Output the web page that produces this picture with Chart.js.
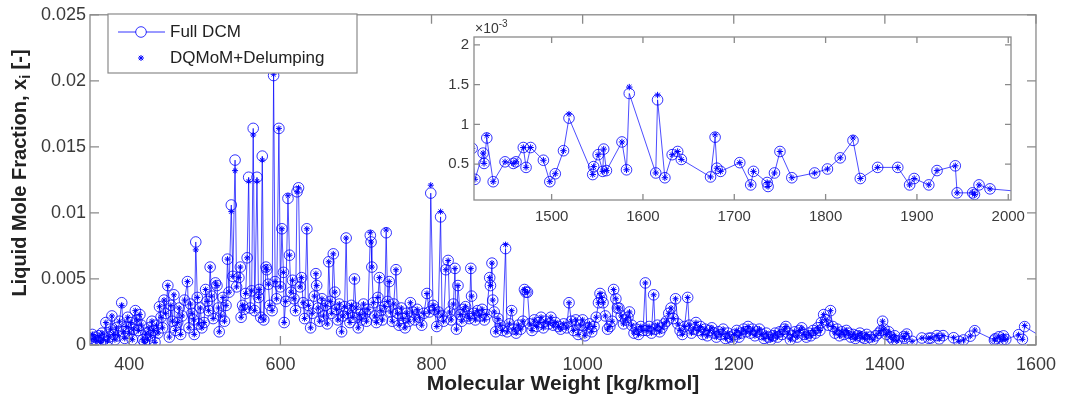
<!DOCTYPE html>
<html>
<head>
<meta charset="utf-8">
<title>Liquid mole fraction vs molecular weight</title>
<script src="https://cdn.jsdelivr.net/npm/chart.js@4.4.1/dist/chart.umd.min.js"></script>
<style>
  html, body { margin: 0; padding: 0; background: #fff; }
  #wrap { position: relative; width: 1065px; height: 400px; }
  #wrap canvas { position: absolute; left: 0; top: 0; }
</style>
</head>
<body>
<div id="wrap">
  <canvas id="mainChart" width="1065" height="400"></canvas>
  <canvas id="insetChart" width="1065" height="400"></canvas>
</div>
<script>
// molecular weight of each pseudo component [kg/kmol]
const mw = [
  348, 351, 353, 355, 357, 360, 362, 364, 366, 369,
  371, 373, 375, 377, 379, 381, 383, 385, 387, 390,
  392, 394, 396, 398, 400, 402, 404, 406, 408, 410,
  412, 414, 416, 418, 420, 422, 424, 426, 428, 430,
  432, 434, 436, 438, 440, 442, 444, 446, 448, 451,
  453, 455, 457, 459, 461, 464, 466, 468, 470, 473,
  477, 479, 481, 483, 485, 486, 488, 490, 492, 494,
  496, 499, 501, 503, 505, 507, 509, 511, 514, 516,
  518, 519, 521, 524, 526, 528, 530, 532, 535, 537,
  540, 542, 545, 547, 548, 550, 552, 554, 556, 558,
  560, 562, 564, 566, 569, 571, 572, 574, 576, 578,
  581, 582, 584, 586, 589, 591, 593, 595, 598, 600,
  602, 604, 605, 607, 610, 612, 614, 616, 618, 620,
  622, 624, 626, 628, 630, 632, 635, 637, 640, 642,
  645, 647, 648, 650, 652, 655, 657, 660, 662, 664,
  666, 668, 670, 672, 674, 676, 678, 681, 683, 685,
  687, 689, 692, 694, 696, 698, 700, 703, 705, 707,
  710, 712, 714, 716, 719, 720, 721, 723, 725, 727,
  729, 731, 733, 735, 738, 740, 742, 744, 746, 748,
  750, 753, 755, 757, 760, 762, 765, 767, 770, 772,
  775, 778, 781, 784, 787, 790, 794, 797, 799, 802,
  804, 807, 809, 812, 814, 816, 819, 822, 824, 826,
  829, 831, 833, 835, 838, 840, 842, 845, 848, 850,
  852, 853, 856, 858, 861, 864, 867, 870, 873, 877,
  878, 880, 881, 883, 885, 888, 891, 894, 898, 900,
  903, 906, 909, 912, 915, 918, 921, 923, 925, 927,
  930, 933, 936, 939, 942, 945, 948, 951, 955, 958,
  961, 964, 968, 971, 975, 979, 982, 985, 988, 991,
  994, 997, 1000, 1003, 1006, 1009, 1012, 1015, 1018, 1021,
  1023, 1025, 1027, 1030, 1033, 1036, 1039, 1041, 1044, 1046,
  1048, 1051, 1054, 1057, 1060, 1062, 1065, 1068, 1071, 1074,
  1077, 1080, 1083, 1085, 1088, 1091, 1094, 1096, 1099, 1102,
  1105, 1108, 1111, 1114, 1117, 1120, 1123, 1126, 1129, 1132,
  1135, 1139, 1141, 1144, 1147, 1150, 1153, 1156, 1159, 1162,
  1165, 1168, 1171, 1174, 1177, 1180, 1183, 1186, 1189, 1192,
  1195, 1198, 1201, 1204, 1207, 1210, 1213, 1216, 1219, 1222,
  1225, 1228, 1231, 1234, 1237, 1240, 1243, 1246, 1249, 1252,
  1255, 1258, 1261, 1264, 1267, 1269, 1272, 1275, 1278, 1281,
  1284, 1287, 1290, 1293, 1296, 1299, 1302, 1305, 1308, 1311,
  1314, 1316, 1319, 1322, 1325, 1328, 1331, 1334, 1337, 1340,
  1343, 1346, 1349, 1352, 1355, 1358, 1361, 1364, 1367, 1370,
  1373, 1376, 1380, 1384, 1388, 1392, 1395, 1397, 1399, 1402,
  1405, 1408, 1411, 1413, 1416, 1425, 1426, 1429, 1436, 1449,
  1458, 1461, 1469, 1472, 1477, 1491, 1498, 1504, 1513, 1519,
  1545, 1546, 1551, 1556, 1557, 1560, 1577, 1582, 1585, 1614,
  1616, 1624, 1632, 1638, 1642, 1674, 1679, 1681, 1685, 1706,
  1718, 1721, 1736, 1737, 1744, 1750, 1763, 1788, 1802, 1816,
  1830, 1838, 1857, 1879, 1892, 1897, 1913, 1922, 1942, 1944,
  1961, 1963, 1968, 1980, 2010
];

// Full DCM liquid mole fraction
const fullDcm = [
  .0005, .0008, .0004, .0006, .0003, .0007, .0002, .0009, .0004, .0017,
  .0003, .0006, .0012, .0022, .0008, .0004, .0013, .0007, .0018, .0032,
  .0010, .0005, .0014, .0021, .0009, .0017, .0004, .0012, .0026, .0019,
  .0011, .0023, .0015, .0004, .0002, .0009, .0004, .0013, .0007, .0018,
  .0011, .0002, .0015, .0009, .0029, .0021, .0013, .0034, .0024, .0045,
  .0006, .0030, .0018, .0038, .0011, .0017, .0028, .0008, .0022, .0034,
  .0048, .0013, .0031, .0024, .0019, .0008, .0078, .0036, .0016, .0028,
  .0013, .0017, .0042, .0033, .0026, .0059, .0037, .0020, .0047, .0045,
  .0028, .0010, .0022, .0036, .0018, .0030, .0065, .0040, .0106, .0052,
  .0140, .0044, .0051, .0059, .0021, .0030, .0027, .0039, .0066, .0127,
  .0028, .0041, .0164, .0026, .0127, .0036, .0042, .0021, .0143, .0019,
  .0059, .0057, .0046, .0030, .0026, .0204, .0048, .0035, .0164, .0044,
  .0088, .0055, .0017, .0033, .0111, .0068, .0040, .0049, .0035, .0026,
  .0116, .0119, .0044, .0051, .0032, .0020, .0088, .0030, .0013, .0024,
  .0037, .0054, .0045, .0028, .0018, .0035, .0022, .0030, .0016, .0063,
  .0033, .0024, .0069, .0040, .0027, .0019, .0031, .0010, .0022, .0029,
  .0081, .0024, .0017, .0030, .0021, .0050, .0028, .0013, .0023, .0019,
  .0031, .0024, .0018, .0027, .0083, .0078, .0059, .0032, .0022, .0017,
  .0036, .0051, .0026, .0019, .0029, .0085, .0033, .0048, .0025, .0018,
  .0031, .0057, .0024, .0015, .0028, .0020, .0013, .0024, .0018, .0032,
  .0025, .0019, .0027, .0021, .0015, .0024, .0039, .0025, .0115, .0030,
  .0027, .0014, .0025, .0097, .0022, .0018, .0057, .0064, .0025, .0019,
  .0031, .0058, .0012, .0045, .0023, .0018, .0027, .0029, .0022, .0020,
  .0058, .0037, .0024, .0019, .0026, .0022, .0027, .0019, .0023, .0051,
  .0045, .0062, .0034, .0025, .0010, .0020, .0015, .0011, .0073, .0010,
  .0016, .0026, .0012, .0009, .0015, .0012, .0018, .0042, .0040, .0040,
  .0016, .0011, .0019, .0014, .0017, .0021, .0013, .0018, .0016, .0021,
  .0015, .0017, .0014, .0012, .0016, .0013, .0032, .0018, .0011, .0019,
  .0008, .0015, .0019, .0007, .0013, .0016, .0010, .0014, .0021, .0032,
  .0039, .0036, .0032, .0022, .0012, .0014, .0018, .0042, .0035, .0028,
  .0028, .0022, .0016, .0019, .0021, .0025, .0015, .0009, .0012, .0008,
  .0014, .0011, .0047, .0011, .0014, .0009, .0038, .0012, .0015, .0010,
  .0013, .0016, .0018, .0024, .0028, .0020, .0035, .0016, .0011, .0008,
  .0014, .0036, .0015, .0009, .0012, .0017, .0011, .0014, .0008, .0012,
  .0007, .0011, .0013, .0009, .0006, .0010, .0008, .0012, .0005, .0009,
  .0006, .0004, .0008, .0011, .0006, .0009, .0012, .0010, .0014, .0009,
  .0012, .0007, .0010, .0012, .0008, .0005, .0009, .0006, .0004, .0007,
  .0009, .0006, .0010, .0008, .0012, .0014, .0009, .0004, .0007, .0010,
  .0006, .0011, .0013, .0008, .0006, .0009, .0007, .0011, .0009, .0013,
  .0011, .0017, .0023, .0019, .0015, .0026, .0014, .0009, .0012, .0007,
  .0010, .0008, .0011, .0009, .0006, .0008, .0005, .0007, .0009, .0006,
  .0005, .0008, .0006, .0004, .0007, .0009, .0011, .0018, .0012, .0008,
  .0010, .0006, .0004, .0007, .00031, .00064, .00051, .00083, .00028, .00053,
  .00051, .00053, .00071, .00046, .00071, .00055, .00028, .00038, .00067, .00108,
  .00037, .00047, .00062, .00041, .00069, .00042, .00078, .00043, .00139, .00039,
  .00131, .00033, .00062, .00066, .00056, .00034, .00084, .00045, .00041, .00052,
  .00024, .00041, .00027, .00022, .00039, .00066, .00033, .00039, .00044, .00058,
  .00080, .00032, .00046, .00046, .00024, .00032, .00024, .00042, .00048, .00014,
  .00014, .00012, .00024, .00019, .00016
];

// DQMoM+Delumping markers sit on the Full DCM circles except at these peaks
const dqPeakMw  = [390, 488, 535, 540, 558, 564, 569, 576, 591, 610, 719, 740, 799, 812, 898, 1429, 1519, 1585, 1616, 1679, 1830];
const dqPeakVal = [.0030, .0072, .0101, .0132, .0124, .0159, .0124, .0140, .0205, .0113, .0085, .0087, .0121, .0101, .0076,
                   .00086, .00113, .00147, .00137, .00087, .00083];

const xTicks = [400, 600, 800, 1000, 1200, 1400, 1600];
const yTicks = [0, 0.005, 0.01, 0.015, 0.02, 0.025];
const yTickLabels = ['0', '0.005', '0.01', '0.015', '0.02', '0.025'];
const insetXTicks = [1500, 1600, 1700, 1800, 1900, 2000];
const insetYTicks = [0.0005, 0.001, 0.0015, 0.002];
const insetYTickLabels = ['0.5', '1', '1.5', '2'];

const BLUE = '#0000ff';
const AXIS = '#8a8a8a';
const TXT = '#3a3a3a';
const FONT = "'Liberation Sans', Arial, sans-serif";

const dqmom = fullDcm.map((v, i) => {
    const k = dqPeakMw.indexOf(mw[i]);
    return k >= 0 ? dqPeakVal[k] : v;
});
const fullPts = mw.map((m, i) => ({ x: m, y: fullDcm[i] }));
const dqPts = mw.map((m, i) => ({ x: m, y: dqmom[i] }));

function makeDatasets(circleR, starR) {
    return [
        {
            label: 'Full DCM',
            data: fullPts,
            showLine: true,
            borderColor: BLUE,
            borderWidth: 0.7,
            pointStyle: 'circle',
            pointRadius: circleR,
            pointBorderWidth: 0.8,
            pointBorderColor: BLUE,
            pointBackgroundColor: 'rgba(0,0,0,0)',
            order: 2
        },
        {
            label: 'DQMoM+Delumping',
            data: dqPts,
            showLine: false,
            pointStyle: 'star',
            pointRadius: starR,
            pointBorderWidth: 1,
            pointBorderColor: BLUE,
            pointBackgroundColor: BLUE,
            order: 1
        }
    ];
}

// box + inward ticks on all four sides, like a MATLAB axes
function framePlugin(id, xt, yt, len) {
    return {
        id: id,
        afterDatasetsDraw(chart) {
            const ctx = chart.ctx;
            const a = chart.chartArea;
            const sx = chart.scales.x, sy = chart.scales.y;
            ctx.save();
            ctx.strokeStyle = AXIS;
            ctx.lineWidth = 1.3;
            ctx.beginPath();
            xt.forEach(v => {
                const px = sx.getPixelForValue(v);
                ctx.moveTo(px, a.bottom); ctx.lineTo(px, a.bottom - len);
                ctx.moveTo(px, a.top); ctx.lineTo(px, a.top + len);
            });
            yt.forEach(v => {
                const py = sy.getPixelForValue(v);
                ctx.moveTo(a.left, py); ctx.lineTo(a.left + len, py);
                ctx.moveTo(a.right, py); ctx.lineTo(a.right - len, py);
            });
            ctx.stroke();
            ctx.strokeRect(a.left, a.top, a.right - a.left, a.bottom - a.top);
            ctx.restore();
        }
    };
}

function drawStar(ctx, x, y, r) {
    const d = r * Math.SQRT1_2;
    ctx.beginPath();
    ctx.moveTo(x - r, y); ctx.lineTo(x + r, y);
    ctx.moveTo(x, y - r); ctx.lineTo(x, y + r);
    ctx.moveTo(x - d, y - d); ctx.lineTo(x + d, y + d);
    ctx.moveTo(x - d, y + d); ctx.lineTo(x + d, y - d);
    ctx.stroke();
}

const mainDecor = {
    id: 'mainDecor',
    afterDraw(chart) {
        const ctx = chart.ctx;
        const a = chart.chartArea;
        ctx.save();
        ctx.fillStyle = '#222';
        // x title
        ctx.font = 'bold 21px ' + FONT;
        ctx.textAlign = 'center';
        ctx.textBaseline = 'alphabetic';
        ctx.fillText('Molecular Weight [kg/kmol]', (a.left + a.right) / 2, 390);
        // y title with subscript i
        ctx.translate(19, 173);
        ctx.rotate(-Math.PI / 2);
        const p1 = 'Liquid Mole Fraction, x', p2 = 'i', p3 = ' [-]';
        ctx.textAlign = 'left';
        ctx.font = 'bold 20px ' + FONT;
        const w1 = ctx.measureText(p1).width, w3 = ctx.measureText(p3).width;
        ctx.font = 'bold 14px ' + FONT;
        const w2 = ctx.measureText(p2).width;
        let x0 = -(w1 + w2 + w3) / 2;
        ctx.font = 'bold 20px ' + FONT;
        ctx.fillText(p1, x0, 7);
        ctx.font = 'bold 14px ' + FONT;
        ctx.fillText(p2, x0 + w1, 11);
        ctx.font = 'bold 20px ' + FONT;
        ctx.fillText(p3, x0 + w1 + w2, 7);
        ctx.restore();

        // legend
        ctx.save();
        ctx.fillStyle = '#fff';
        ctx.fillRect(108, 14, 249, 59);
        ctx.strokeStyle = AXIS;
        ctx.lineWidth = 1.2;
        ctx.strokeRect(108, 14, 249, 59);
        ctx.strokeStyle = BLUE;
        ctx.lineWidth = 0.8;
        ctx.beginPath();
        ctx.moveTo(118, 32); ctx.lineTo(136, 32);
        ctx.moveTo(146, 32); ctx.lineTo(165, 32);
        ctx.stroke();
        ctx.beginPath();
        ctx.arc(141, 32, 5.3, 0, Math.PI * 2);
        ctx.stroke();
        ctx.lineWidth = 1;
        drawStar(ctx, 141, 58, 3);
        ctx.fillStyle = '#222';
        ctx.font = '17px ' + FONT;
        ctx.textAlign = 'left';
        ctx.textBaseline = 'middle';
        ctx.fillText('Full DCM', 170, 32);
        ctx.fillText('DQMoM+Delumping', 170, 58);
        ctx.restore();
    }
};

const insetDecor = {
    id: 'insetDecor',
    beforeDraw(chart) {
        const a = chart.chartArea;
        chart.ctx.save();
        chart.ctx.fillStyle = '#fff';
        chart.ctx.fillRect(a.left, a.top, a.right - a.left, a.bottom - a.top);
        chart.ctx.restore();
    },
    afterDraw(chart) {
        const ctx = chart.ctx;
        const a = chart.chartArea;
        ctx.save();
        ctx.fillStyle = TXT;
        ctx.textAlign = 'left';
        ctx.textBaseline = 'alphabetic';
        ctx.font = '14px ' + FONT;
        ctx.fillText('\u00d710', a.left + 1, 33);
        const w = ctx.measureText('\u00d710').width;
        ctx.font = '10px ' + FONT;
        ctx.fillText('-3', a.left + 1 + w, 27);
        ctx.restore();
    }
};

function scaleSet(xmin, xmax, ymin, ymax, xt, yt, yLabels, fontSize, yWidth, xHeight, xPad, yPad) {
    return {
        x: {
            type: 'linear', min: xmin, max: xmax,
            grid: { display: false, drawTicks: false },
            border: { display: false },
            afterBuildTicks: s => { s.ticks = xt.map(v => ({ value: v })); },
            afterFit: s => { s.height = xHeight; },
            ticks: {
                autoSkip: false, maxRotation: 0, padding: xPad, color: TXT,
                font: { family: FONT, size: fontSize },
                callback: v => String(v)
            }
        },
        y: {
            type: 'linear', min: ymin, max: ymax,
            grid: { display: false, drawTicks: false },
            border: { display: false },
            afterBuildTicks: s => { s.ticks = yt.map(v => ({ value: v })); },
            afterFit: s => { s.width = yWidth; },
            ticks: {
                autoSkip: false, padding: yPad, color: TXT,
                font: { family: FONT, size: fontSize },
                callback: (v, i) => yLabels[i]
            }
        }
    };
}

new Chart(document.getElementById('mainChart'), {
    type: 'scatter',
    data: { datasets: makeDatasets(5.3, 3) },
    options: {
        responsive: false,
        animation: false,
        devicePixelRatio: 1,
        layout: { autoPadding: false, padding: { left: 0, top: 14, right: 23, bottom: 0 } },
        scales: scaleSet(348, 1600, 0, 0.025, xTicks, yTicks, yTickLabels, 18, 90, 55, 9, 4),
        plugins: { legend: { display: false }, tooltip: { enabled: false } }
    },
    plugins: [framePlugin('mainFrame', xTicks, yTicks, 9), mainDecor]
});

new Chart(document.getElementById('insetChart'), {
    type: 'scatter',
    data: { datasets: makeDatasets(5.3, 3.2) },
    options: {
        responsive: false,
        animation: false,
        devicePixelRatio: 1,
        layout: { autoPadding: false, padding: { left: 0, top: 37, right: 54, bottom: 0 } },
        scales: scaleSet(1415, 2003, 0.00005, 0.0021, insetXTicks, insetYTicks, insetYTickLabels, 15, 474, 200, 8, 5),
        plugins: { legend: { display: false }, tooltip: { enabled: false } }
    },
    plugins: [insetDecor, framePlugin('insetFrame', insetXTicks, insetYTicks, 6)]
});
</script>
</body>
</html>
